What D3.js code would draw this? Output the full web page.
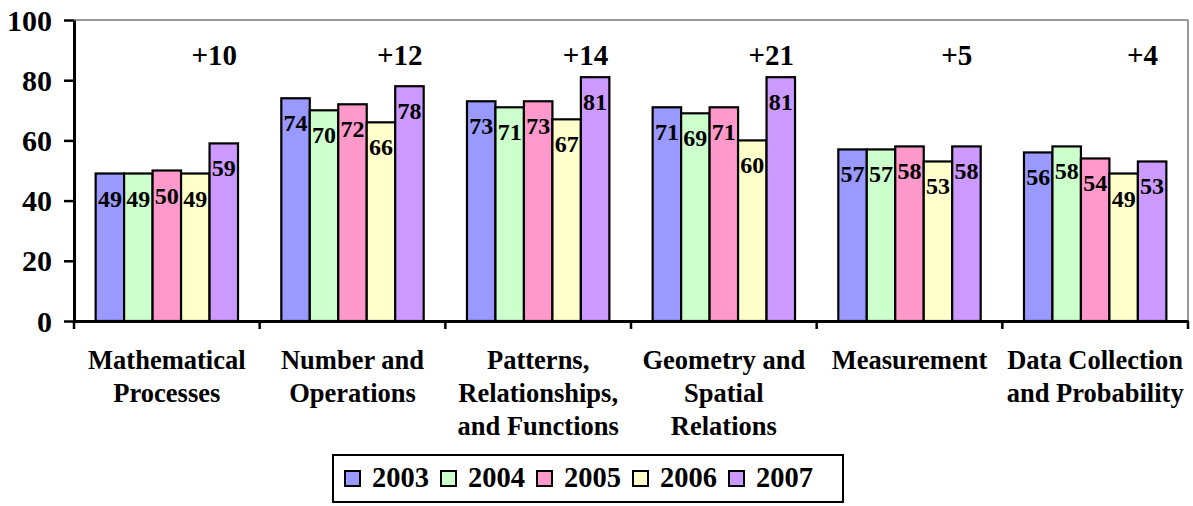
<!DOCTYPE html>
<html>
<head>
<meta charset="utf-8">
<script src="https://cdn.jsdelivr.net/npm/d3@7"></script>
<style>
  body { margin: 0; background: #fff; }
  text { font-family: "Liberation Serif", "Times New Roman", serif; font-weight: bold; fill: #000; }
</style>
</head>
<body>
<script>
var categories = [
  ["Mathematical", "Processes"],
  ["Number and", "Operations"],
  ["Patterns,", "Relationships,", "and Functions"],
  ["Geometry and", "Spatial", "Relations"],
  ["Measurement"],
  ["Data Collection", "and Probability"]
];
var years = ["2003", "2004", "2005", "2006", "2007"];
var values2003 = [49, 74, 73, 71, 57, 56];
var values2004 = [49, 70, 71, 69, 57, 58];
var values2005 = [50, 72, 73, 71, 58, 54];
var values2006 = [49, 66, 67, 60, 53, 49];
var values2007 = [59, 78, 81, 81, 58, 53];
var gains = ["+10", "+12", "+14", "+21", "+5", "+4"];
var yTicks = [0, 20, 40, 60, 80, 100];

var series = [values2003, values2004, values2005, values2006, values2007];
var colors = ["#9999ff", "#ccffcc", "#ff99cc", "#ffffcc", "#cc99ff"];

var W = 1193, H = 506,
    plotL = 74, plotR = 1188, plotT = 20, plotB = 321;

var svg = d3.select("body").append("svg")
    .attr("width", W)
    .attr("height", H);

var catIdx = d3.range(categories.length);

var x0 = d3.scaleBand().domain(catIdx).range([plotL, plotR]).padding(0);
var x1 = d3.scaleBand().domain(years).range([0, x0.bandwidth()])
    .paddingInner(0).paddingOuter(0.76);
var y = d3.scaleLinear().domain([0, 100]).range([plotB, plotT]);
var color = d3.scaleOrdinal().domain(years).range(colors);

// plot frame (grey top/right)
svg.append("line")
    .attr("x1", plotL).attr("x2", plotR).attr("y1", plotT).attr("y2", plotT)
    .attr("stroke", "#999").attr("stroke-width", 2);
svg.append("line")
    .attr("x1", plotR).attr("x2", plotR).attr("y1", plotT).attr("y2", plotB)
    .attr("stroke", "#999").attr("stroke-width", 2);

// bars
var groups = svg.selectAll(".grp")
    .data(catIdx)
  .enter().append("g")
    .attr("class", "grp")
    .attr("transform", function(i) { return "translate(" + x0(i) + ",0)"; });

function rows(i) {
  return years.map(function(yr, k) { return {year: yr, v: series[k][i]}; });
}

groups.selectAll("rect")
    .data(rows)
  .enter().append("rect")
    .attr("x", function(d) { return x1(d.year); })
    .attr("y", function(d) { return y(d.v); })
    .attr("width", x1.bandwidth())
    .attr("height", function(d) { return plotB - y(d.v); })
    .attr("fill", function(d) { return color(d.year); })
    .attr("stroke", "#000")
    .attr("stroke-width", 2.2);

groups.selectAll(".val")
    .data(rows)
  .enter().append("text")
    .attr("class", "val")
    .attr("x", function(d) { return x1(d.year) + x1.bandwidth() / 2; })
    .attr("y", function(d) { return y(d.v) + 33; })
    .attr("text-anchor", "middle")
    .style("font-size", "24px")
    .text(function(d) { return d.v; });

// gain annotations
svg.selectAll(".gain")
    .data(catIdx)
  .enter().append("text")
    .attr("class", "gain")
    .attr("x", function(i) { return x0(i) + x0.bandwidth() * 0.755; })
    .attr("y", 65)
    .attr("text-anchor", "middle")
    .style("font-size", "29px")
    .text(function(i) { return gains[i]; });

// y axis
var yAxis = svg.append("g")
    .attr("transform", "translate(" + plotL + ",0)")
    .call(d3.axisLeft(y).tickValues(yTicks).tickSize(10).tickSizeOuter(0).tickPadding(12));
yAxis.select(".domain").attr("stroke", "#000").attr("stroke-width", 3);
yAxis.selectAll(".tick line").attr("stroke", "#000").attr("stroke-width", 2.5);
yAxis.selectAll(".tick text")
    .attr("dy", null).attr("y", 10)
    .style("font-size", "30px")
    .style("font-family", "'Liberation Serif', serif")
    .style("font-weight", "bold");

// x axis
var xAxis = svg.append("g")
    .attr("transform", "translate(0," + plotB + ")")
    .call(d3.axisBottom(x0).tickSize(0).tickSizeOuter(0).tickFormat(""));
xAxis.select(".domain").attr("stroke", "#000").attr("stroke-width", 3);
xAxis.selectAll(".tick").remove();

xAxis.selectAll(".sep")
    .data(catIdx.concat([categories.length]))
  .enter().append("line")
    .attr("class", "sep")
    .attr("x1", function(i) { return i < categories.length ? x0(i) : plotR; })
    .attr("x2", function(i) { return i < categories.length ? x0(i) : plotR; })
    .attr("y1", 0).attr("y2", 8)
    .attr("stroke", "#000").attr("stroke-width", 2.5);

var labels = svg.selectAll(".cat")
    .data(catIdx)
  .enter().append("text")
    .attr("class", "cat")
    .attr("text-anchor", "middle")
    .style("font-size", "26.5px");

labels.selectAll("tspan")
    .data(function(i) { return categories[i].map(function(s) { return {i: i, s: s}; }); })
  .enter().append("tspan")
    .attr("x", function(d) { return x0(d.i) + x0.bandwidth() / 2; })
    .attr("y", function(d, k) { return 369 + k * 33; })
    .text(function(d) { return d.s; });

// legend
var lg = svg.append("g");
lg.append("rect")
    .attr("x", 333).attr("y", 455)
    .attr("width", 510).attr("height", 47)
    .attr("fill", "#fff").attr("stroke", "#000").attr("stroke-width", 2);

var items = lg.selectAll(".item")
    .data(years)
  .enter().append("g")
    .attr("class", "item")
    .attr("transform", function(d, i) { return "translate(" + (345 + i * 96) + ",471)"; });

items.append("rect")
    .attr("width", 15).attr("height", 15)
    .attr("fill", function(d) { return color(d); })
    .attr("stroke", "#000").attr("stroke-width", 2);

items.append("text")
    .attr("x", 27).attr("y", 16)
    .style("font-size", "28.5px")
    .text(function(d) { return d; });
</script>
</body>
</html>
